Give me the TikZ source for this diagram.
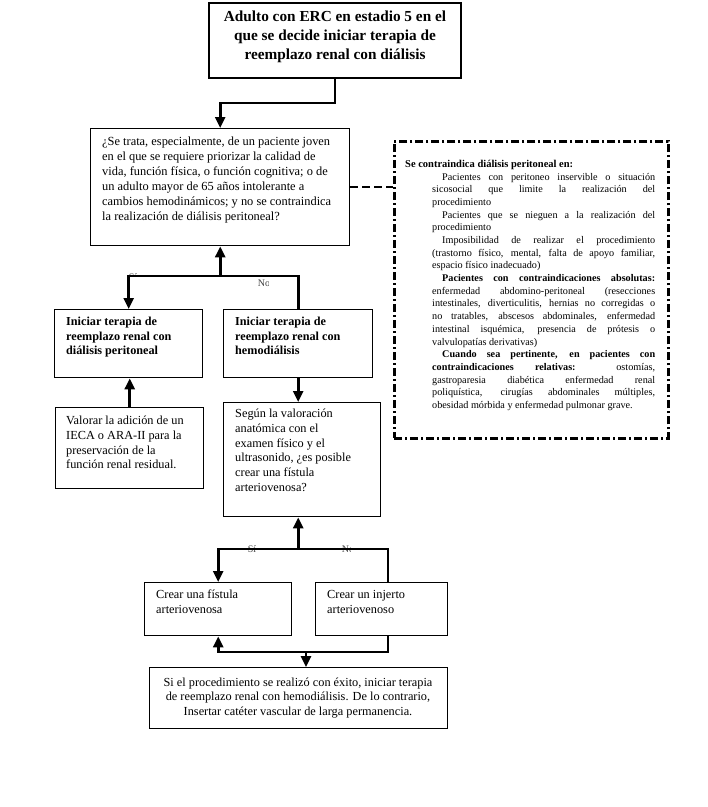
\documentclass[tikz,border=0pt]{standalone}
\usepackage{fontspec}
\setmainfont{Liberation Serif}
\usetikzlibrary{arrows.meta,calc}
\begin{document}
\begin{tikzpicture}[x=1pt,y=-1pt,
  box/.style={draw,line width=1.4pt,rectangle,inner sep=0pt,anchor=north west},
  txt/.style={inner sep=0pt,anchor=north west,align=left},
  conn/.style={line width=2.6pt},
  arr/.style={conn,-{Triangle[length=11pt,width=10pt]}},
  lbl/.style={inner sep=0pt,font=\fontsize{10}{12}\selectfont,text=black!75},
  dashbox/.style={draw,line width=2.6pt,dash pattern=on 8pt off 3pt on 2pt off 3pt,rectangle,inner sep=0pt,anchor=north west},
]
\useasboundingbox (0,0) rectangle (708,807);
\fill[white] (0,0) rectangle (708,807);

% boxes
\node[box,line width=2pt,minimum width=252pt,minimum height=75pt] (top) at (208,2) {};
\node[inner sep=0pt,align=center,font=\fontsize{15.3}{19}\selectfont\bfseries] (toptxt) at (335,37)
  {Adulto con ERC en estadio 5 en el\\que se decide iniciar terapia de\\reemplazo renal con diálisis};

\node[box,minimum width=259pt,minimum height=117pt] (q) at (90,128) {};
\node[txt,font=\fontsize{12.4}{15}\selectfont] (qtxt) at (102,137)
  {¿Se trata, especialmente, de un paciente joven\\en el que se requiere priorizar la calidad de\\vida, función física, o función cognitiva; o de\\un adulto mayor de 65 años intolerante a\\cambios hemodinámicos; y no se contraindica\\la realización de diálisis peritoneal?};

\node[dashbox,minimum width=274pt,minimum height=297pt] (db) at (393,140) {};
\node[txt,font=\fontsize{10.5}{12.67}\selectfont\bfseries] (dbh) at (405,160) {Se contraindica diálisis peritoneal en:};
\node[txt,align=justify,text width=223pt,font=\fontsize{10.2}{12.67}\selectfont] (dbt) at (432,173)
  {\hspace*{10pt}Pacientes con peritoneo inservible o situación\linebreak sicosocial que limite la realización del\linebreak procedimiento\par
   \hspace*{10pt}Pacientes que se nieguen a la realización del\linebreak procedimiento\par
   \hspace*{10pt}Imposibilidad de realizar el procedimiento\linebreak (trastorno físico, mental, falta de apoyo familiar,\linebreak espacio físico inadecuado)\par
   \hspace*{10pt}\textbf{Pacientes con contraindicaciones absolutas:}\linebreak enfermedad abdomino-peritoneal (resecciones\linebreak intestinales, diverticulitis, hernias no corregidas o\linebreak no tratables, abscesos abdominales, enfermedad\linebreak intestinal isquémica, presencia de prótesis o\linebreak valvulopatías derivativas)\par
   \hspace*{10pt}\textbf{Cuando sea pertinente, en pacientes con\linebreak contraindicaciones relativas:} ostomías,\linebreak gastroparesia diabética enfermedad renal\linebreak poliquística, cirugías abdominales múltiples,\linebreak obesidad mórbida y enfermedad pulmonar grave.};

\node[box,minimum width=148pt,minimum height=68pt] (pd) at (54,309) {};
\node[txt,font=\fontsize{12.2}{14.5}\selectfont\bfseries] (pdtxt) at (66,317)
  {Iniciar terapia de\\reemplazo renal con\\diálisis peritoneal};
\node[box,minimum width=149pt,minimum height=68pt] (hd) at (223,309) {};
\node[txt,font=\fontsize{12.2}{14.5}\selectfont\bfseries] (hdtxt) at (235,317)
  {Iniciar terapia de\\reemplazo renal con\\hemodiálisis};

\node[box,minimum width=148pt,minimum height=81pt] (val) at (55,407) {};
\node[txt,font=\fontsize{12.3}{14.7}\selectfont] (valtxt) at (66,416)
  {Valorar la adición de un\\IECA o ARA-II para la\\preservación de la\\función renal residual.};

\node[box,minimum width=157pt,minimum height=114pt] (seg) at (223,402) {};
\node[txt,font=\fontsize{12.3}{14.7}\selectfont] (segtxt) at (235,409)
  {Según la valoración\\anatómica con el\\examen físico y el\\ultrasonido, ¿es posible\\crear una fístula\\arteriovenosa?};

\node[box,minimum width=147pt,minimum height=53pt] (fis) at (144,582) {};
\node[txt,font=\fontsize{12.3}{14.7}\selectfont] (fistxt) at (156,590)
  {Crear una fístula\\arteriovenosa};
\node[box,minimum width=132pt,minimum height=53pt] (inj) at (315,582) {};
\node[txt,font=\fontsize{12.3}{14.7}\selectfont] (injtxt) at (327,590)
  {Crear un injerto\\arteriovenoso};

\node[box,minimum width=298pt,minimum height=61pt] (fin) at (149,667) {};
\node[inner sep=0pt,align=center,font=\fontsize{12.3}{14.5}\selectfont] (fintxt) at (298,698)
  {Si el procedimiento se realizó con éxito, iniciar terapia\\de reemplazo renal con hemodiálisis. De lo contrario,\\Insertar catéter vascular de larga permanencia.};

% clipped labels
\begin{scope}
\clip (127,268) rectangle (138,275);
\node[lbl] (l1) at (133,277) {Sí};
\end{scope}
\begin{scope}
\clip (258,279) rectangle (268,287);
\node[lbl] (l2) at (264,283) {No};
\end{scope}
\begin{scope}
\clip (245,543) rectangle (257,555);
\node[lbl] (l3) at (252,549) {Sí};
\end{scope}
\begin{scope}
\clip (338,543) rectangle (350,555);
\node[lbl] (l4) at (348,549) {No};
\end{scope}

% connectors
\coordinate (h1) at (0,103);
\coordinate (h2) at (0,276);
\coordinate (h3) at (0,549);
\coordinate (h4) at (0,652);
\coordinate (vx) at (388,0);
\coordinate (vf) at (306,0);

\draw[arr] (top.south) -- (top.south |- h1) -- (q.north |- h1) -- (q.north);
\draw[arr] (q.south |- h2) -- (q.south);
\draw[arr] (hd.north) -- (hd.north |- h2) -- (pd.north |- h2) -- (pd.north);
\draw[arr] (val.north) -- (val.north |- pd.south);
\draw[arr] (hd.south) -- (hd.south |- seg.north);
\draw[arr] (hd.south |- h3) -- (hd.south |- seg.south);
\draw[arr] (vx |- inj.north) -- (vx |- h3) -- (fis.north |- h3) -- (fis.north);
\draw[arr] (vx |- inj.south) -- (vx |- h4) -- (fis.south |- h4) -- (fis.south);
\draw[arr] (vf |- h4) -- (vf |- fin.north);
\draw[line width=2.5pt,dash pattern=on 8pt off 4pt] (q.east) -- (q.east -| db.west);
\end{tikzpicture}
\end{document}
